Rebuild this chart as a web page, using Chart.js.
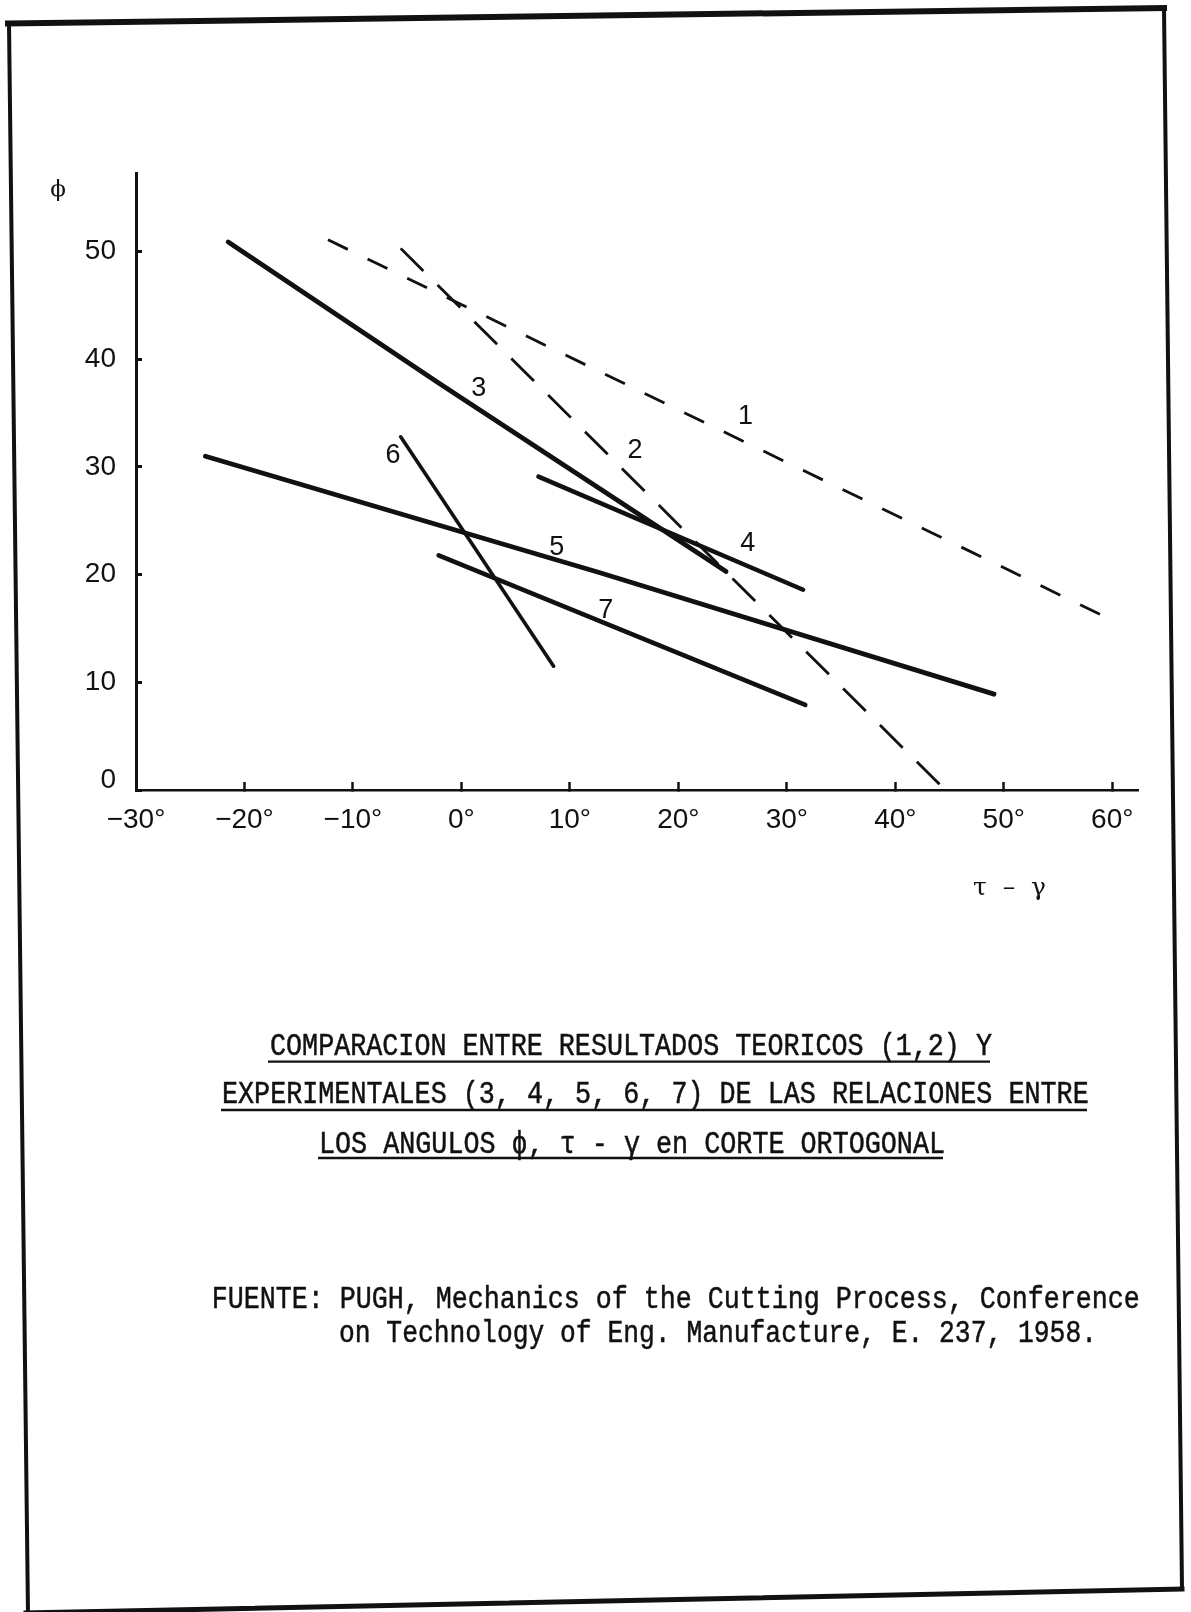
<!DOCTYPE html>
<html>
<head>
<meta charset="utf-8">
<script src="https://cdn.jsdelivr.net/npm/chart.js@4.4.1/dist/chart.umd.min.js"></script>
<style>
  html, body { margin: 0; padding: 0; background: #ffffff; }
  #wrap { position: relative; width: 1191px; height: 1612px; overflow: hidden; }
  #chart { position: absolute; left: 0; top: 0; }
  #overlay { position: absolute; left: 0; top: 0; pointer-events: none; }
</style>
</head>
<body>
<div id="wrap">
  <canvas id="chart" width="1191" height="1612"></canvas>
  <svg id="overlay" width="1191" height="1612" xmlns="http://www.w3.org/2000/svg">
    <g stroke="#111" fill="none" stroke-linecap="square">
      <line x1="8" y1="23.5" x2="1164" y2="8" stroke-width="6"/>
      <line x1="9" y1="23" x2="28" y2="1614" stroke-width="4"/>
      <line x1="1164" y1="8" x2="1182" y2="1589" stroke-width="4"/>
      <line x1="1182" y1="1589" x2="26" y2="1613" stroke-width="5"/>
    </g>
    <text x="58" y="196" font-family="DejaVu Serif" font-size="23" text-anchor="middle" fill="#111">ϕ</text>
    <text x="973" y="895" font-family="DejaVu Serif" font-size="25" fill="#111" textLength="73" lengthAdjust="spacing">τ – γ</text>
    <g font-family="Liberation Mono" font-size="31" fill="#111" stroke="#111" stroke-width="0.5">
      <text x="270" y="1055" textLength="722" lengthAdjust="spacingAndGlyphs">COMPARACION ENTRE RESULTADOS TEORICOS (1,2) Y</text>
      <text x="222" y="1103.3" textLength="866.7" lengthAdjust="spacingAndGlyphs">EXPERIMENTALES (3, 4, 5, 6, 7) DE LAS RELACIONES ENTRE</text>
      <text x="319" y="1153.3" textLength="626" lengthAdjust="spacingAndGlyphs">LOS ANGULOS ϕ, τ - γ en CORTE ORTOGONAL</text>
      <text x="211.7" y="1308" textLength="928" lengthAdjust="spacingAndGlyphs">FUENTE: PUGH, Mechanics of the Cutting Process, Conference</text>
      <text x="339" y="1342" textLength="758" lengthAdjust="spacingAndGlyphs">on Technology of Eng. Manufacture, E. 237, 1958.</text>
    </g>
    <g stroke="#111" stroke-width="2.3">
      <line x1="268" y1="1061.7" x2="990" y2="1061.7"/>
      <line x1="221" y1="1110" x2="1087" y2="1110"/>
      <line x1="318" y1="1158" x2="943" y2="1158"/>
    </g>
  </svg>
</div>
<script>
// ---- data ----
const seriesNames = ['1', '2', '3', '4', '5', '6', '7'];
const s1X = [-12.3, 59.5];          const s1Y = [51.1, 16.0];   // theoretical (dashed)
const s2X = [-5.6, 44.6];           const s2Y = [50.3, 0];      // theoretical (dashed)
const s3X = [-21.5, -2.1, 24.4];    const s3Y = [50.9, 37.8, 20.3];
const s4X = [7.1, 31.5];            const s4Y = [29.1, 18.6];
const s5X = [-23.6, 12.7, 49.1];    const s5Y = [31.0, 20.2, 8.9];
const s6X = [-5.6, 8.5];            const s6Y = [32.8, 11.5];
const s7X = [-2.1, 31.7];           const s7Y = [21.8, 7.9];
const labelX = [26.2, 16.0, 1.6, 26.4, 8.8, -6.3, 13.3];
const labelY = [34.7, 31.5, 37.3, 22.9, 22.5, 31.1, 16.7];
const xTicks = [-30, -20, -10, 0, 10, 20, 30, 40, 50, 60];
const yTicks = [0, 10, 20, 30, 40, 50];

// ---- chart ----
const INK = '#111';
function pts(xs, ys) { return xs.map((x, i) => ({ x: x, y: ys[i] })); }
function line(name, xs, ys, w, dash) {
  return {
    label: name, data: pts(xs, ys), showLine: true,
    borderColor: INK, backgroundColor: INK, borderWidth: w,
    borderDash: dash || [], borderCapStyle: dash ? 'butt' : 'round', borderJoinStyle: 'round',
    pointRadius: 0, pointHoverRadius: 0, tension: 0, fill: false
  };
}
const datasets = [
  line(seriesNames[0], s1X, s1Y, 2.8, [22, 22]),
  line(seriesNames[1], s2X, s2Y, 2.8, [32, 20]),
  line(seriesNames[2], s3X, s3Y, 4.8),
  line(seriesNames[3], s4X, s4Y, 4.5),
  line(seriesNames[4], s5X, s5Y, 4.8),
  line(seriesNames[5], s6X, s6Y, 3.6),
  line(seriesNames[6], s7X, s7Y, 4.6)
];

const seriesLabels = {
  id: 'seriesLabels',
  afterDatasetsDraw(chart) {
    const { ctx } = chart; const x = chart.scales.x; const y = chart.scales.y;
    ctx.save();
    ctx.fillStyle = INK;
    ctx.font = '27px "Liberation Sans"';
    ctx.textAlign = 'center';
    ctx.textBaseline = 'middle';
    seriesNames.forEach((n, i) => {
      ctx.fillText(n, x.getPixelForValue(labelX[i]), y.getPixelForValue(labelY[i]));
    });
    ctx.restore();
  }
};

const tickFont = { family: 'Liberation Sans', size: 28 };

new Chart(document.getElementById('chart'), {
  type: 'scatter',
  data: { datasets: datasets },
  options: {
    responsive: false, animation: false, devicePixelRatio: 1,
    events: [],
    layout: { padding: { left: 0, top: 173, right: 52.7, bottom: 762 } },
    plugins: { legend: { display: false }, tooltip: { enabled: false } },
    scales: {
      x: {
        type: 'linear', min: -30, max: 62.4,
        afterBuildTicks: s => { s.ticks = xTicks.map(v => ({ value: v })); },
        afterFit: s => { s.height = 60; },
        grid: { display: true, drawOnChartArea: false, drawTicks: true, tickLength: -8, tickWidth: 2.5, tickColor: INK },
        border: { display: true, width: 2.6, color: INK },
        ticks: {
          padding: 21.5, maxRotation: 0, minRotation: 0, autoSkip: false, color: INK, font: tickFont,
          callback: v => (v < 0 ? '\u2212' + Math.abs(v) : String(v)) + '°'
        }
      },
      y: {
        type: 'linear', min: 0, max: 57.3,
        afterBuildTicks: s => { s.ticks = yTicks.map(v => ({ value: v })); },
        afterFit: s => { s.width = 136; },
        grid: { display: true, drawOnChartArea: false, drawTicks: true, tickLength: -6, tickWidth: 3, tickColor: INK },
        border: { display: true, width: 3, color: INK },
        ticks: {
          padding: 26, color: INK,
          font: ctx => (ctx && ctx.tick && ctx.tick.value === 0)
            ? { family: 'Liberation Sans', size: 28, lineHeight: 0.72 }
            : tickFont,
          callback: v => v === 0 ? ['0', ''] : String(v)
        }
      }
    }
  },
  plugins: [seriesLabels]
});
</script>
</body>
</html>
